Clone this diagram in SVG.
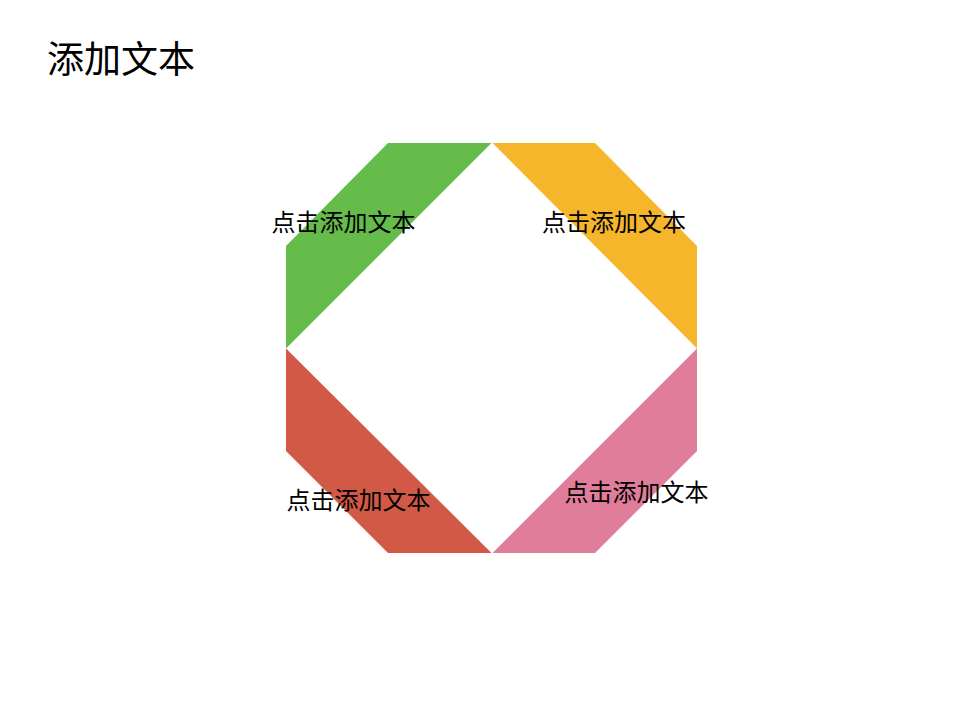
<svg xmlns="http://www.w3.org/2000/svg" width="960" height="720" viewBox="0 0 960 720">
<style>
text{font-family:"Noto Sans CJK SC","Microsoft YaHei",sans-serif;fill:#000}
.lbl{font-size:24px;text-anchor:middle}
.title{font-size:37px}
</style>
<rect width="960" height="720" fill="#fff"/>
<text id="title" class="title" x="47" y="73">添加文本</text>
<g id="seg-green">
<polygon points="388,143 491.5,143 286,348.5 286,246" fill="#65BC4B"/>
<text class="lbl" x="343.5" y="231">点击添加文本</text>
</g>
<g id="seg-orange">
<polygon points="492.5,143 595,143 697,246 697,348.5" fill="#F6B62C"/>
<text class="lbl" x="614" y="231">点击添加文本</text>
</g>
<g id="seg-red">
<polygon points="286,348.5 491.5,553 388,553 286,451" fill="#D15946"/>
<text class="lbl" x="358.5" y="509">点击添加文本</text>
</g>
<g id="seg-pink">
<polygon points="697,348.5 697,451 595,553 492.5,553" fill="#E07D9A"/>
<text class="lbl" x="636.5" y="501">点击添加文本</text>
</g>
<g id="connectors"></g>
</svg>
